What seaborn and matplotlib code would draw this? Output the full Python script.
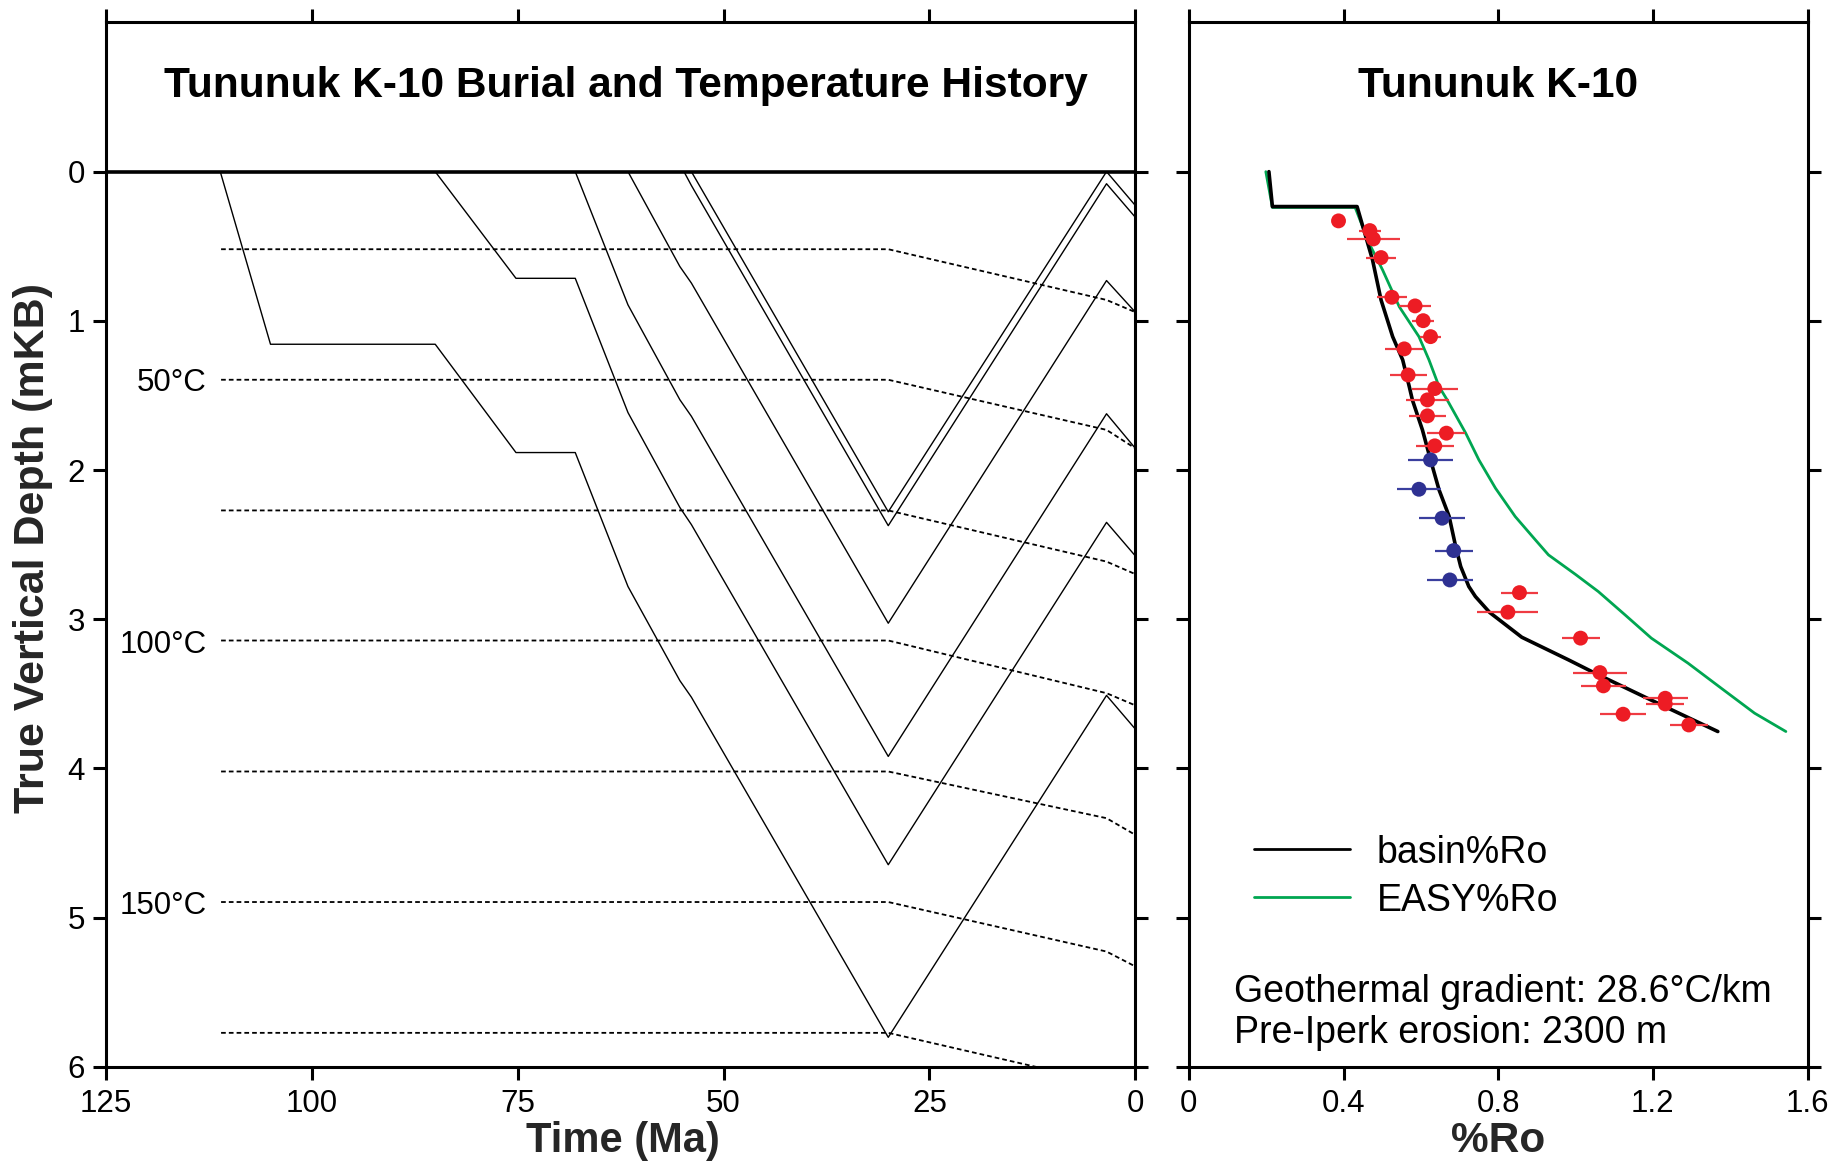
import matplotlib
matplotlib.use("Agg")
import matplotlib.pyplot as plt
import seaborn as sns
import pandas as pd
from matplotlib.lines import Line2D

# ---------------- data: burial history (time Ma, depth km) ----------------
h1_time = [111.1, 105.0, 85.0, 75.2, 68.0, 61.6, 55.3, 53.9, 30.0, 3.5, 0.0]
h1_depth = [0.0, 1.157, 1.157, 1.883, 1.883, 2.781, 3.412, 3.523, 5.803, 3.511, 3.737]
h2_time = [85.0, 75.2, 68.0, 61.6, 55.3, 53.9, 30.0, 3.5, 0.0]
h2_depth = [0.0, 0.715, 0.715, 1.615, 2.251, 2.366, 4.646, 2.351, 2.576]
h3_time = [68.0, 61.6, 55.3, 53.9, 30.0, 3.5, 0.0]
h3_depth = [0.0, 0.893, 1.529, 1.640, 3.920, 1.623, 1.855]
h4_time = [61.6, 55.3, 53.9, 30.0, 3.5, 0.0]
h4_depth = [0.0, 0.636, 0.747, 3.027, 0.730, 0.942]
h5_time = [54.8, 53.9, 30.0, 3.5, 0.0]
h5_depth = [0.0, 0.093, 2.373, 0.081, 0.306]
h6_time = [53.9, 30.0, 3.5, 0.0]
h6_depth = [0.0, 2.280, 0.0, 0.227]

# isotherms (dotted)
iso_time = [111.0, 30.0, 3.5, 0.0]
iso_25 = [0.520, 0.520, 0.860, 0.942]
iso_50 = [1.395, 1.395, 1.731, 1.855]
iso_75 = [2.271, 2.271, 2.614, 2.698]
iso_100 = [3.143, 3.143, 3.496, 3.578]
iso_125 = [4.021, 4.021, 4.334, 4.446]
iso_150 = [4.896, 4.896, 5.228, 5.328]
iso_175 = [5.773, 5.773, 6.110, 6.210]
iso_labels = ["50°C", "100°C", "150°C"]
iso_label_depths = [1.42, 3.17, 4.92]

# ---------------- data: vitrinite reflectance ----------------
basin_ro = [0.207, 0.216, 0.435, 0.475, 0.497, 0.527, 0.553, 0.570, 0.578, 0.604,
            0.625, 0.647, 0.673, 0.690, 0.703, 0.724, 0.741, 0.778, 0.861, 0.982,
            1.059, 1.231, 1.368]
basin_depth = [0.0, 0.234, 0.234, 0.592, 0.860, 1.106, 1.262, 1.441, 1.530, 1.731,
               1.932, 2.133, 2.310, 2.513, 2.647, 2.781, 2.848, 2.955, 3.121, 3.273,
               3.373, 3.586, 3.753]
easy_ro = [0.199, 0.216, 0.430, 0.466, 0.501, 0.544, 0.595, 0.621, 0.647, 0.668,
           0.716, 0.750, 0.793, 0.844, 0.896, 0.930, 1.000, 1.059, 1.128, 1.196,
           1.291, 1.377, 1.463, 1.544]
easy_depth = [0.0, 0.240, 0.240, 0.480, 0.659, 0.905, 1.106, 1.262, 1.441, 1.530,
              1.753, 1.932, 2.122, 2.312, 2.468, 2.569, 2.700, 2.815, 2.971, 3.127,
              3.295, 3.463, 3.630, 3.753]

red_ro = [0.387, 0.468, 0.477, 0.497, 0.525, 0.585, 0.606, 0.625, 0.557, 0.567,
          0.636, 0.617, 0.617, 0.666, 0.636, 0.855, 0.825, 1.013, 1.063, 1.072,
          1.232, 1.232, 1.123, 1.293]
red_depth = [0.330, 0.395, 0.451, 0.576, 0.842, 0.900, 0.999, 1.106, 1.188, 1.363,
             1.454, 1.530, 1.637, 1.753, 1.838, 2.822, 2.953, 3.127, 3.358, 3.447,
             3.530, 3.568, 3.637, 3.709]
red_err = [0.015, 0.029, 0.069, 0.039, 0.039, 0.041, 0.028, 0.028, 0.049, 0.048,
           0.060, 0.056, 0.049, 0.049, 0.049, 0.049, 0.079, 0.049, 0.069, 0.059,
           0.058, 0.049, 0.059, 0.049]
blue_ro = [0.625, 0.595, 0.655, 0.685, 0.675]
blue_depth = [1.932, 2.129, 2.323, 2.540, 2.737]
blue_err = [0.059, 0.056, 0.059, 0.049, 0.059]

time_ticks = [125, 100, 75, 50, 25, 0]
ro_ticks = [0, 0.4, 0.8, 1.2, 1.6]
ro_tick_labels = ["0", "0.4", "0.8", "1.2", "1.6"]
depth_ticks = [0, 1, 2, 3, 4, 5, 6]

# ---------------- build tables ----------------
hor = []
for name, t, d in [("h1", h1_time, h1_depth), ("h2", h2_time, h2_depth),
                   ("h3", h3_time, h3_depth), ("h4", h4_time, h4_depth),
                   ("h5", h5_time, h5_depth), ("h6", h6_time, h6_depth)]:
    for ti, di in zip(t, d):
        hor.append({"horizon": name, "time": ti, "depth": di})
hor_df = pd.DataFrame(hor)

iso = []
for name, d in [("25", iso_25), ("50", iso_50), ("75", iso_75), ("100", iso_100),
                ("125", iso_125), ("150", iso_150), ("175", iso_175)]:
    for ti, di in zip(iso_time, d):
        iso.append({"iso": name, "time": ti, "depth": di})
iso_df = pd.DataFrame(iso)

basin_df = pd.DataFrame({"ro": basin_ro, "depth": basin_depth})
easy_df = pd.DataFrame({"ro": easy_ro, "depth": easy_depth})
red_df = pd.DataFrame({"ro": red_ro, "depth": red_depth, "err": red_err})
blue_df = pd.DataFrame({"ro": blue_ro, "depth": blue_depth, "err": blue_err})

# ---------------- style ----------------
sns.set_theme(style="ticks")
plt.rcParams["font.family"] = ["Liberation Sans", "DejaVu Sans"]
plt.rcParams["axes.linewidth"] = 2.2
plt.rcParams["text.color"] = "black"

RED = "#ED1C24"
BLUE = "#2E3192"
GREEN = "#00A651"

fig = plt.figure(figsize=(18.33, 11.62), dpi=100)
axL = fig.add_axes([0.0577, 0.0820, 0.5617, 0.8993])
axR = fig.add_axes([0.6486, 0.0820, 0.3375, 0.8993])

# ---------------- left panel ----------------
sns.lineplot(data=iso_df, x="time", y="depth", units="iso", estimator=None, sort=False,
             color="black", lw=1.3, dashes=False, ax=axL, legend=False)
for line in axL.get_lines():
    line.set_dashes((2.6, 1.7))
sns.lineplot(data=hor_df, x="time", y="depth", units="horizon", estimator=None, sort=False,
             color="black", lw=1.0, ax=axL, legend=False)
axL.axhline(0, color="black", lw=2.6)
for lab, d in zip(iso_labels, iso_label_depths):
    axL.text(112.8, d, lab, ha="right", va="center", fontsize=22.5)
axL.text(61.8, -0.503, "Tununuk K-10 Burial and Temperature History",
         ha="center", va="baseline", fontsize=30.6, fontweight="bold")

axL.set_xlim(125, 0)
axL.set_ylim(6, -1.005)
axL.set_xticks(time_ticks)
axL.set_xticklabels([str(t) for t in time_ticks])
axL.set_yticks(depth_ticks)
axL.set_yticklabels([str(d) for d in depth_ticks])
axL.set_xlabel("Time (Ma)", fontsize=30, fontweight="bold")
axL.set_ylabel("True Vertical Depth (mKB)", fontsize=31, fontweight="bold")
axL.xaxis.set_label_coords(0.502, -0.052)
axL.yaxis.set_label_coords(-0.051, 0.496)

# ---------------- right panel ----------------
sns.lineplot(data=easy_df, x="ro", y="depth", estimator=None, sort=False,
             color=GREEN, lw=2.0, ax=axR, legend=False)
sns.lineplot(data=basin_df, x="ro", y="depth", estimator=None, sort=False,
             color="black", lw=2.6, ax=axR, legend=False)
axR.errorbar(red_df["ro"], red_df["depth"], xerr=red_df["err"], fmt="none",
             ecolor="#EF3B42", elinewidth=1.6, capsize=0, zorder=3)
axR.errorbar(blue_df["ro"], blue_df["depth"], xerr=blue_df["err"], fmt="none",
             ecolor="#3A3F9E", elinewidth=1.6, capsize=0, zorder=3)
sns.scatterplot(data=red_df, x="ro", y="depth", color=RED, s=115, edgecolor="none",
                ax=axR, zorder=4, legend=False)
sns.scatterplot(data=blue_df, x="ro", y="depth", color=BLUE, s=115, edgecolor="none",
                ax=axR, zorder=4, legend=False)

handles = [Line2D([], [], color="black", lw=2.0), Line2D([], [], color=GREEN, lw=2.0)]
axR.legend(handles, ["basin%Ro", "EASY%Ro"], loc="center left",
           bbox_to_anchor=(0.105, 0.182), frameon=False, fontsize=27,
           handlelength=2.56, handletextpad=0.72, labelspacing=0.32,
           borderpad=0, borderaxespad=0)
axR.text(0.8, -0.503, "Tununuk K-10", ha="center", va="baseline",
         fontsize=30.6, fontweight="bold")
fig.text(1233.8 / 1833, 1 - 1001.7 / 1162, "Geothermal gradient: 28.6°C/km",
         ha="left", va="baseline", fontsize=27)
fig.text(1233.8 / 1833, 1 - 1043.3 / 1162, "Pre-Iperk erosion: 2300 m",
         ha="left", va="baseline", fontsize=27)

axR.set_xlim(0, 1.6)
axR.set_ylim(6, -1.005)
axR.set_xticks(ro_ticks)
axR.set_xticklabels(ro_tick_labels)
axR.set_yticks(depth_ticks)
axR.set_yticklabels([])
axR.set_xlabel("%Ro", fontsize=30.5, fontweight="bold")
axR.set_ylabel("")
axR.xaxis.set_label_coords(0.5, -0.052)

for ax in (axL, axR):
    ax.tick_params(axis="both", which="both", direction="out", length=9.4, width=2.2,
                   labelsize=22.5, top=True, right=True, colors="black")
    ax.tick_params(axis="x", pad=7)
    ax.tick_params(axis="y", pad=5.5)
    for sp in ax.spines.values():
        sp.set_color("black")
        sp.set_linewidth(2.2)
    ax.grid(False)

fig.savefig("out.png", dpi=100)
